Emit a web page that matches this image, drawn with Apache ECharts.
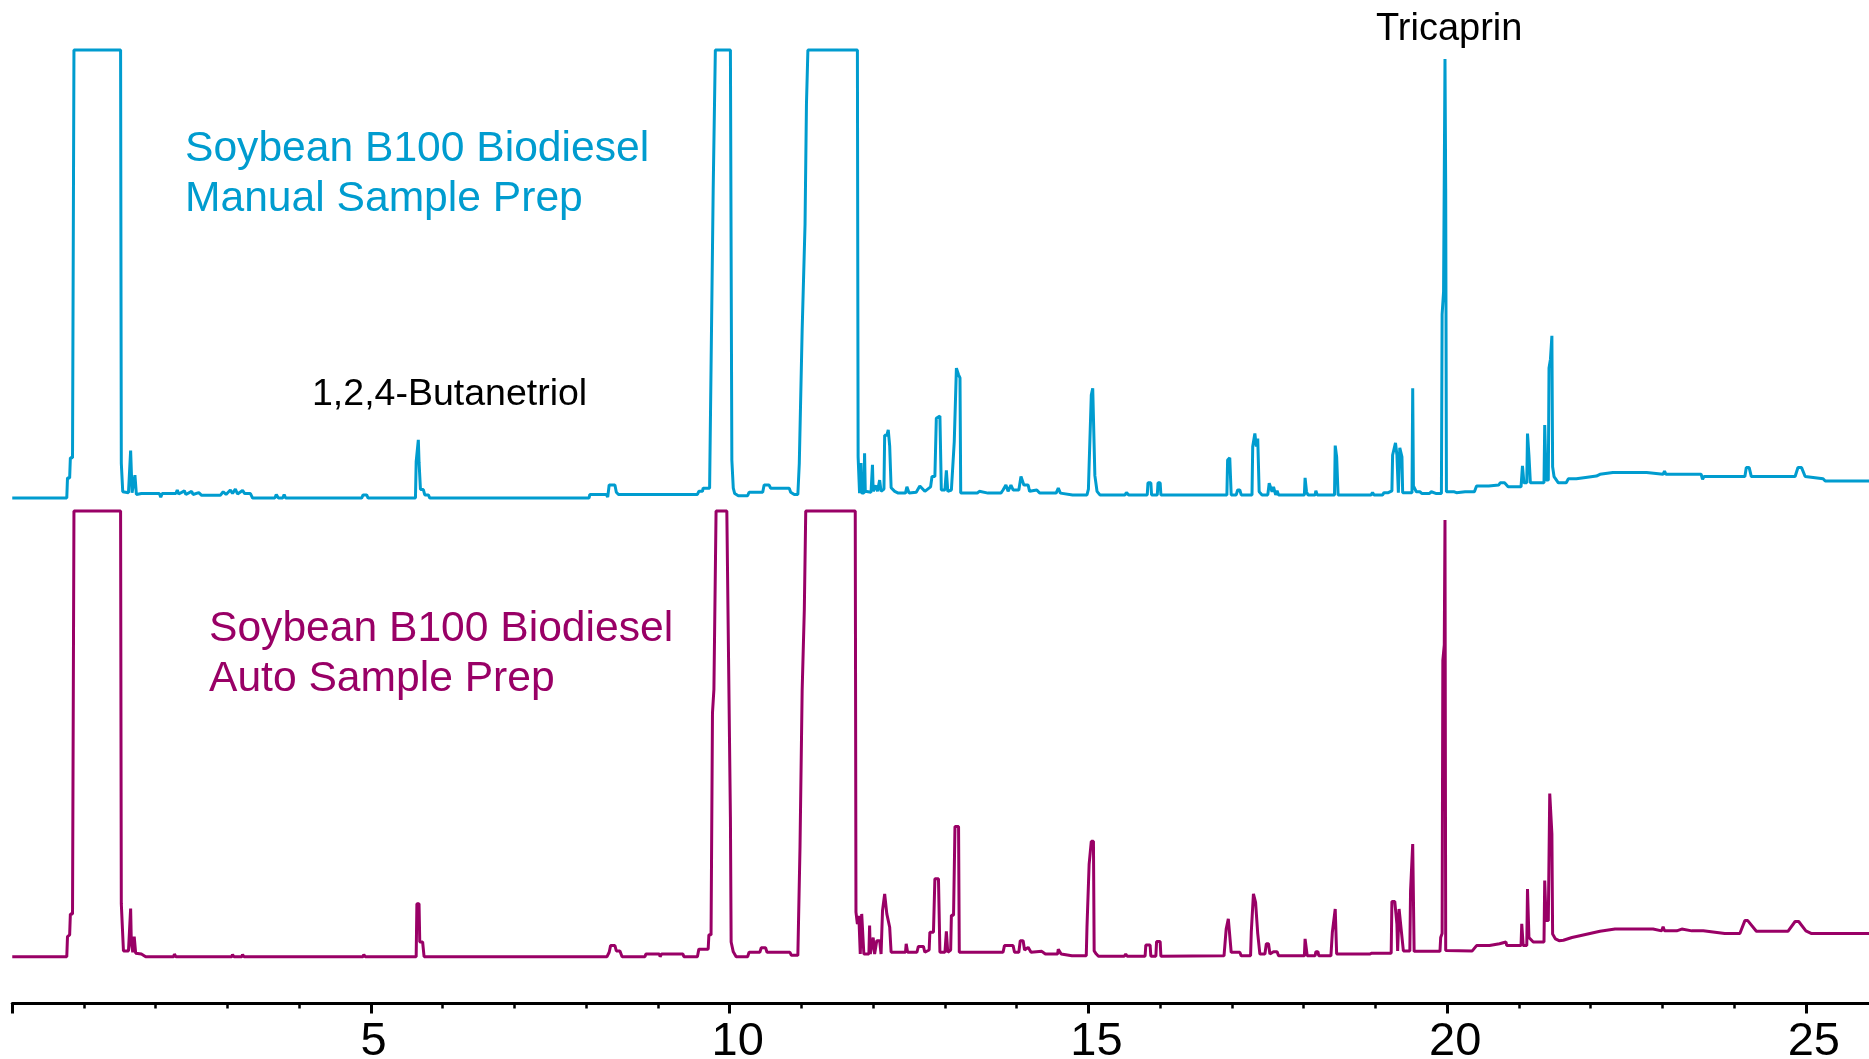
<!DOCTYPE html>
<html>
<head>
<meta charset="utf-8">
<title>Soybean B100 Biodiesel chromatograms</title>
<script src="https://cdn.jsdelivr.net/npm/echarts@6/dist/echarts.min.js"></script>
<style>
  html, body { margin: 0; padding: 0; background: #fff; }
  #chart { width: 1869px; height: 1059px; }
</style>
</head>
<body>
<div id="chart"></div>
<script>
// retention time (min), detector signal (scaled, 100 = off scale)
var manualTrace = [
  [0.00, 0], [0.76, 0], [0.77, 4.5], [0.80, 4.5], [0.81, 9], [0.84, 9], [0.86, 100],
  [1.51, 100], [1.52, 7.8], [1.54, 1.4], [1.62, 1.2], [1.65, 10.6], [1.67, 1.2], [1.69, 1], [1.71, 5.1], [1.73, 0.8],
  [1.80, 1], [2.05, 1], [2.07, 0.2], [2.09, 1], [2.28, 1], [2.30, 1.8], [2.32, 0.9], [2.40, 1.6], [2.42, 0.8],
  [2.50, 1.5], [2.52, 0.8], [2.60, 1.2], [2.64, 0.6], [2.90, 0.6], [2.94, 1.4], [2.98, 0.8], [3.04, 1.8], [3.07, 1],
  [3.11, 2], [3.14, 0.9], [3.21, 1.7], [3.24, 1], [3.32, 1], [3.35, 0],
  [3.66, 0], [3.68, 0.8], [3.71, 0], [3.77, 0], [3.79, 0.8], [3.81, 0], [4.87, 0], [4.89, 0.7], [4.94, 0.7], [4.96, 0],
  [5.62, 0], [5.63, 8.1], [5.65, 8.5], [5.66, 13], [5.67, 8], [5.69, 1.9], [5.73, 1.9], [5.75, 0.7], [5.80, 0.7], [5.82, 0],
  [8.04, 0], [8.05, 0.8], [8.28, 0.8], [8.30, 0.2], [8.32, 2.9], [8.40, 2.9], [8.42, 1.3], [8.45, 0.8],
  [8.94, 0.8], [8.96, 1.2], [8.98, 0.8], [9.55, 0.8], [9.57, 1.5], [9.62, 1.5], [9.63, 2.2], [9.72, 2.2],
  [9.74, 29], [9.77, 69], [9.80, 100],
  [10.01, 100], [10.03, 8.5], [10.05, 2.2], [10.07, 1], [10.12, 0.5], [10.25, 0.5], [10.27, 1.3], [10.46, 1.3],
  [10.48, 2.9], [10.55, 2.9], [10.57, 2.2], [10.83, 2.2], [10.85, 1.3], [10.90, 0.8], [10.95, 0.8],
  [10.97, 7.7], [11.01, 37.5], [11.05, 61], [11.07, 88], [11.09, 100],
  [11.78, 100], [11.79, 9.2], [11.81, 1.1], [11.83, 7.8], [11.84, 1.1], [11.87, 1.1], [11.88, 10], [11.89, 1.5],
  [11.97, 1.3], [11.99, 7.4], [12.00, 1.5], [12.04, 2.8], [12.06, 1.5], [12.09, 4], [12.11, 1.5], [12.15, 2],
  [12.16, 14], [12.19, 14], [12.21, 15.2], [12.23, 11.6], [12.25, 2.3], [12.30, 1.5], [12.35, 1.1], [12.45, 1.1],
  [12.47, 2.5], [12.50, 1.1], [12.60, 1.3], [12.65, 2.7], [12.72, 1.5], [12.80, 2.5], [12.82, 4.8], [12.86, 4.8],
  [12.88, 17.8], [12.93, 18.3], [12.95, 1.8], [13.00, 1.8], [13.02, 6.2], [13.04, 1.5], [13.09, 1.8],
  [13.13, 12.6], [13.15, 12.6], [13.16, 29], [13.19, 27.5], [13.21, 26.8], [13.22, 1.1],
  [13.45, 1.1], [13.48, 1.5], [13.60, 1.1], [13.78, 1.1], [13.81, 1.8], [13.85, 2.9], [13.88, 1.5], [13.92, 2.9],
  [13.95, 1.8], [14.03, 1.8], [14.06, 4.8], [14.10, 2.9], [14.16, 2.9], [14.18, 1.5], [14.28, 1.8], [14.32, 1.1],
  [14.55, 1.1], [14.58, 2.2], [14.61, 1.1], [14.78, 0.7],
  [14.98, 0.7], [15.00, 2], [15.01, 7.4], [15.04, 23], [15.06, 24.5], [15.08, 24.5], [15.09, 5], [15.12, 1.5], [15.16, 0.7],
  [15.51, 0.7], [15.53, 1.2], [15.56, 0.7], [15.82, 0.7], [15.83, 3.4], [15.87, 3.4], [15.88, 0.7],
  [15.96, 0.7], [15.97, 3.4], [16.00, 3.4], [16.01, 0.7],
  [16.93, 0.7], [16.94, 8.5], [16.97, 9], [16.99, 0.7], [17.06, 0.7], [17.08, 1.8], [17.11, 1.8], [17.13, 0.7],
  [17.28, 0.7], [17.29, 11.5], [17.32, 14.4], [17.34, 11.5], [17.36, 13.3], [17.38, 1.4], [17.42, 0.7],
  [17.50, 0.7], [17.52, 3.3], [17.56, 1.4], [17.58, 2.5], [17.61, 0.7], [17.63, 1.6], [17.65, 0.7],
  [18.01, 0.7], [18.02, 4.5], [18.04, 1.4], [18.06, 0.7], [18.16, 0.7], [18.17, 1.6], [18.19, 0.7],
  [18.43, 0.7], [18.44, 11.7], [18.46, 9.2], [18.48, 0.7],
  [18.94, 0.7], [18.96, 1.2], [18.98, 0.7], [19.10, 0.7], [19.12, 1.2], [19.18, 1.2], [19.20, 1.6], [19.23, 1.6],
  [19.24, 9.6], [19.28, 12.3], [19.30, 9.6], [19.32, 1.2], [19.34, 11.2], [19.37, 9.2], [19.38, 1.2], [19.40, 1.2],
  [19.51, 1.2], [19.52, 24.5], [19.53, 2.7], [19.57, 1.4], [19.62, 1.4], [19.65, 1.0], [19.75, 1.0], [19.78, 1.4],
  [19.85, 1.0], [19.92, 1.0], [19.93, 41], [19.95, 46], [19.97, 98], [19.98, 69], [19.99, 1.4],
  [20.10, 1.4], [20.13, 1.2], [20.25, 1.4], [20.38, 1.4], [20.41, 2.7], [20.58, 2.7], [20.60, 2.9], [20.72, 2.9],
  [20.74, 3.4], [20.80, 3.4], [20.85, 2.5], [21.03, 2.5], [21.05, 7.2], [21.07, 3.4], [21.11, 3.4], [21.12, 14.4],
  [21.14, 9.6], [21.16, 3.4], [21.35, 3.4], [21.36, 16.3], [21.38, 4], [21.41, 4], [21.42, 29], [21.44, 31],
  [21.46, 36.2], [21.47, 7], [21.49, 4.8], [21.51, 4.8],
  [21.55, 3.4], [21.66, 3.4], [21.69, 4.3], [21.80, 4.3], [21.93, 4.6], [22.08, 4.9], [22.13, 5.3], [22.31, 5.7],
  [22.78, 5.7], [22.80, 5.3], [23.01, 5.3], [23.03, 6.0], [23.05, 5.3], [23.28, 5.3], [23.30, 5.6], [23.34, 5.3],
  [23.54, 5.3], [23.56, 4.2], [23.58, 4.8], [24.15, 4.8], [24.17, 6.8], [24.21, 6.8], [24.24, 4.8],
  [24.85, 4.8], [24.89, 6.8], [24.94, 6.8], [24.99, 4.8], [25.24, 4.3], [25.27, 3.8], [25.88, 3.8]
];

var autoTrace = [
  [0.00, 0], [0.76, 0], [0.77, 4.5], [0.80, 4.9], [0.81, 9.6], [0.84, 9.6], [0.86, 100],
  [1.51, 100], [1.52, 11.9], [1.54, 11.9], [1.55, 1.3], [1.62, 1.3], [1.65, 10.8], [1.66, 3], [1.68, 1],
  [1.70, 4.5], [1.72, 0.8], [1.80, 0.6], [1.86, 0],
  [2.25, 0], [2.26, 0.6], [2.28, 0], [3.06, 0], [3.07, 0.5], [3.09, 0], [3.20, 0], [3.21, 0.5], [3.23, 0],
  [4.89, 0], [4.90, 0.5], [4.92, 0],
  [5.63, 0], [5.64, 11.9], [5.67, 11.9], [5.68, 3.3], [5.72, 3.3], [5.74, 0],
  [8.29, 0], [8.32, 1], [8.34, 2.5], [8.40, 2.5], [8.42, 1.3], [8.47, 1.3], [8.50, 0],
  [8.82, 0], [8.83, 0.6], [9.02, 0.6], [9.03, 0], [9.05, 0.6], [9.14, 0.6], [9.15, 1], [9.17, 0.6], [9.35, 0.6], [9.36, 0],
  [9.55, 0], [9.57, 1.7], [9.70, 1.7], [9.71, 4.9], [9.74, 4.9], [9.76, 54.7], [9.78, 60], [9.81, 100],
  [9.96, 100], [10.01, 31.3], [10.02, 3.3], [10.05, 1.1], [10.09, 0], [10.25, 0], [10.27, 1], [10.42, 1],
  [10.44, 2], [10.50, 2], [10.52, 1], [10.84, 1], [10.86, 0.3], [10.95, 0.3],
  [10.98, 24.6], [11.01, 59.8], [11.04, 77.8], [11.06, 100],
  [11.75, 100], [11.76, 10], [11.78, 7.3], [11.80, 9.2], [11.82, 0.6], [11.84, 9.6], [11.86, 9.6], [11.87, 0.6],
  [11.94, 0.6], [11.95, 7], [11.96, 0.6], [12.00, 4.3], [12.02, 0.6], [12.05, 3.6], [12.09, 3.6], [12.11, 0.6],
  [12.13, 10.3], [12.16, 14.1], [12.19, 9.6], [12.23, 6.6], [12.25, 1], [12.45, 1], [12.46, 2.9], [12.48, 1],
  [12.61, 1], [12.63, 2.3], [12.70, 2.3], [12.72, 1], [12.78, 1.5], [12.79, 5.5], [12.84, 5.5], [12.86, 17.5],
  [12.91, 17.5], [12.93, 1], [13.00, 1], [13.02, 5.7], [13.04, 1], [13.08, 1.5], [13.09, 9.3], [13.12, 9.3],
  [13.14, 29.2], [13.19, 29.2], [13.20, 1],
  [13.50, 1], [13.52, 0.6], [13.55, 1], [13.81, 1], [13.83, 2.5], [13.95, 2.5], [13.97, 1], [14.03, 1],
  [14.05, 3.6], [14.09, 3.6], [14.11, 1.5], [14.16, 2.1], [14.20, 1], [14.35, 1.2], [14.40, 0.6], [14.57, 0.6],
  [14.58, 1.7], [14.62, 0.6], [14.77, 0.2],
  [14.97, 0.2], [14.98, 6.7], [15.01, 20.8], [15.04, 25.9], [15.07, 25.9], [15.08, 1.3], [15.11, 0.6], [15.14, 0.1],
  [15.50, 0.1], [15.52, 0.6], [15.54, 0.1], [15.79, 0.1], [15.80, 2.6], [15.86, 2.6], [15.87, 0.1],
  [15.94, 0.1], [15.95, 3.4], [16.00, 3.4], [16.01, 0.1],
  [16.89, 0.2], [16.92, 6.2], [16.95, 8.5], [16.97, 8.5], [16.99, 1], [17.11, 1], [17.13, 0.2],
  [17.26, 0.2], [17.27, 5.5], [17.30, 14.1], [17.33, 12.2], [17.36, 5.2], [17.39, 0.6], [17.46, 0.6],
  [17.48, 2.9], [17.51, 2.9], [17.53, 0.6], [17.58, 1.1], [17.63, 1.1], [17.65, 0.2],
  [18.01, 0.2], [18.02, 4], [18.04, 4], [18.05, 0.2], [18.16, 0.2], [18.17, 1.1], [18.20, 1.1], [18.21, 0.2],
  [18.38, 0.2], [18.40, 5.5], [18.44, 10.7], [18.46, 0.6], [18.92, 0.6], [18.95, 0.8], [19.22, 0.8],
  [19.23, 12.4], [19.27, 12.4], [19.30, 7.3], [19.31, 1.3], [19.33, 10.7], [19.35, 10.7], [19.39, 1.3],
  [19.48, 1.3], [19.49, 14.8], [19.52, 25.3], [19.54, 1.2],
  [19.90, 1.2], [19.91, 4.3], [19.93, 5.2], [19.94, 66.5], [19.96, 70], [19.97, 98], [19.98, 1.4], [20.00, 1.3],
  [20.35, 1.3], [20.37, 1.5], [20.41, 2.5], [20.59, 2.5], [20.60, 2.9], [20.73, 2.9], [20.74, 3.3], [20.82, 3.3],
  [20.83, 2.5], [21.03, 2.5], [21.04, 7.4], [21.06, 2.5], [21.11, 2.5], [21.12, 15.2], [21.14, 4.3], [21.20, 3.3],
  [21.35, 3.3], [21.36, 17.1], [21.38, 8.1], [21.41, 8.1], [21.43, 36.6], [21.46, 27.6], [21.47, 5.1],
  [21.51, 4], [21.56, 3.6],
  [21.62, 3.7], [21.74, 4.3], [21.85, 4.7], [21.99, 5.2], [22.13, 5.7], [22.34, 6.2], [22.87, 6.2], [22.89, 5.8],
  [22.99, 5.8], [23.01, 6.7], [23.03, 5.8], [23.20, 5.8], [23.22, 6.2], [23.27, 6.2], [23.41, 5.8], [23.57, 5.8],
  [23.87, 5.2], [24.08, 5.2], [24.15, 8.1], [24.19, 8.1], [24.31, 5.7], [24.75, 5.7], [24.85, 7.9], [24.90, 7.9],
  [25.00, 5.8], [25.08, 5.2], [25.88, 5.2]
];

var timeMin = 0;
var timeMax = 25.88;
var majorTicks = [0, 5, 10, 15, 20, 25];
var minorTicks = [0, 1, 2, 3, 4, 5, 6, 7, 8, 9, 10, 11, 12, 13, 14, 15, 16, 17, 18, 19, 20, 21, 22, 23, 24, 25];
var tickLabels = [5, 10, 15, 20, 25];

var blue = '#009ccf';
var magenta = '#990066';
var font = '"Liberation Sans", Arial, Helvetica, sans-serif';

var chart = echarts.init(document.getElementById('chart'));

var option = {
    animation: false,
    backgroundColor: '#fff',
    grid: [
        // manual prep trace (upper)
        {left: 12.25, right: 0, top: 27.6, height: 479.4, outerBoundsMode: 'none', containLabel: false},
        // auto prep trace (lower) - carries the time axis
        {left: 12.25, right: 0, top: 488.8, bottom: 55.5, outerBoundsMode: 'none', containLabel: false}
    ],
    xAxis: [
        {gridIndex: 0, type: 'value', min: timeMin, max: timeMax, show: false},
        {
            gridIndex: 1, type: 'value', position: 'bottom', offset: 0, min: timeMin, max: timeMax,
            axisLine: {onZero: false, lineStyle: {color: '#000', width: 3}},
            axisTick: {show: true, length: 10, customValues: majorTicks, lineStyle: {color: '#000', width: 3}},
            axisLabel: {
                color: '#000', fontSize: 47, fontFamily: font, margin: 15,
                customValues: tickLabels,
                // two-digit labels sit a little right of their tick in the original
                formatter: function (v) {
                    return v < 10 ? '{s|' + v + '}' : '{d|' + v + '}'
                },
                rich: {
                    s: {fontSize: 47, fontFamily: font, color: '#000', padding: [0, 0, 0, 5]},
                    d: {fontSize: 47, fontFamily: font, color: '#000', padding: [0, 0, 0, 16]}
                }
            },
            splitLine: {show: false}
        },
        {
            gridIndex: 1, type: 'value', position: 'bottom', offset: 0, min: timeMin, max: timeMax,
            axisLine: {show: false, onZero: false},
            axisTick: {show: true, length: 5, customValues: minorTicks, lineStyle: {color: '#000', width: 2.5}},
            axisLabel: {show: false},
            splitLine: {show: false}
        }
    ],
    yAxis: [
        {gridIndex: 0, type: 'value', min: -2, max: 105, show: false},
        {gridIndex: 1, type: 'value', min: -10.5, max: 105, show: false}
    ],
    series: [
        {
            name: 'Manual Sample Prep', type: 'line', xAxisIndex: 0, yAxisIndex: 0,
            data: manualTrace, showSymbol: false, symbol: 'none',
            lineStyle: {color: blue, width: 3}
        },
        {
            name: 'Auto Sample Prep', type: 'line', xAxisIndex: 1, yAxisIndex: 1,
            data: autoTrace, showSymbol: false, symbol: 'none',
            lineStyle: {color: magenta, width: 3}
        }
    ],
    graphic: [
        {
            type: 'text', left: 185, top: 124,
            style: {text: 'Soybean B100 Biodiesel\nManual Sample Prep', font: '42.6px ' + font, lineHeight: 50, fill: blue}
        },
        {
            type: 'text', left: 209, top: 604,
            style: {text: 'Soybean B100 Biodiesel\nAuto Sample Prep', font: '42.6px ' + font, lineHeight: 50, fill: magenta}
        },
        {
            type: 'text', left: 312, top: 376,
            style: {text: '1,2,4-Butanetriol', font: '37.5px ' + font, lineHeight: 38, fill: '#000'}
        },
        {
            type: 'text', left: 1376, top: 11,
            style: {text: 'Tricaprin', font: '38px ' + font, lineHeight: 38, fill: '#000'}
        }
    ]
}

chart.setOption(option)
</script>
</body>
</html>
